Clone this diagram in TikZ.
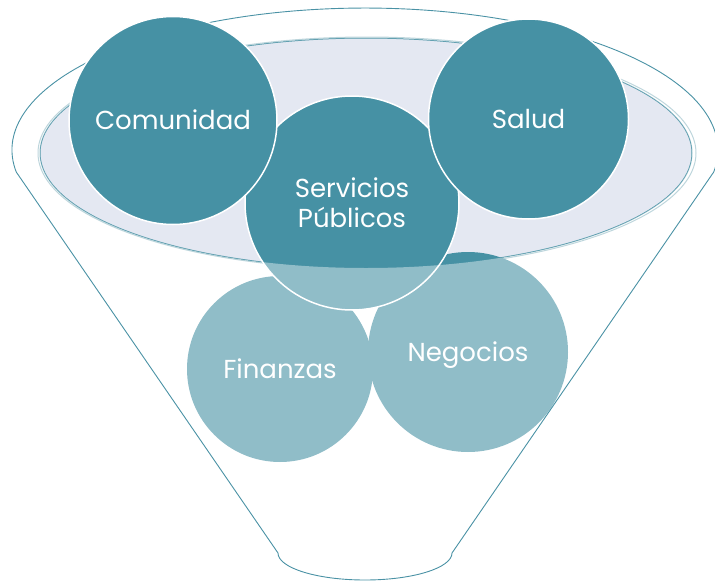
\documentclass[tikz,border=0pt]{standalone}
\usepackage{fontspec}
\newfontfamily\gothic{Poppins}
\definecolor{tealdark}{HTML}{4691A4}
\definecolor{lavender}{HTML}{E4E8F2}
\definecolor{rimline}{HTML}{4A92A5}
\definecolor{rimsoft}{HTML}{94BCC6}
\newcommand\funnelshape{(16.25,172) arc[start angle=171.1,end angle=368.9,x radius=353,y radius=142] -- (452,553) arc[start angle=0,end angle=180,x radius=87,y radius=27] -- cycle}
\begin{document}
\begin{tikzpicture}[x=1pt,y=-1pt]
		\tikzstyle{every node}+=[inner sep=0pt]
		\tikzstyle{ball}=[circle,fill=tealdark,text=white,font=\gothic\fontsize{26}{30}\selectfont,text height=18pt,text depth=0pt]
		\tikzstyle{rimball}=[ball,draw=white,line width=1.5pt]
		\useasboundingbox (0,0) rectangle (715,581);
		\draw [rimsoft,line width=1pt] (367,153) ellipse [x radius=329,y radius=116];
		\draw [rimline,line width=1pt,fill=lavender] (366,153) ellipse [x radius=326,y radius=115];
		\node [ball,minimum size=186pt] (fin) at (280,369) {Finanzas};
		\node [ball,minimum size=200pt] (neg) at (468,352) {Negocios};
		\node [rimball,minimum size=214pt,align=center,text height=48pt] (ser) at (352,203) {Servicios\\Públicos};
		\fill [white,fill opacity=0.4,even odd rule] \funnelshape (366,153) ellipse [x radius=326,y radius=115];
		\draw [rimline,line width=0.9pt] \funnelshape;
		\node [rimball,minimum size=208pt] (com) at (173,120.5) {Comunidad};
		\node [rimball,minimum size=200pt] (sal) at (528.5,119) {Salud};
\end{tikzpicture}
\end{document}
